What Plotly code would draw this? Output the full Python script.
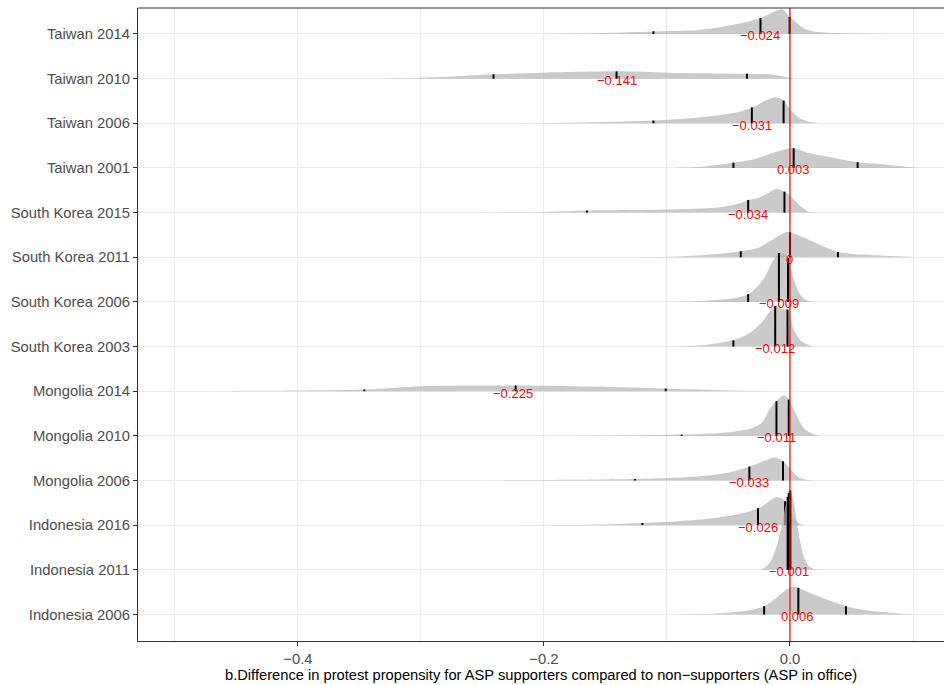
import plotly.graph_objects as go

# ---------------- data ----------------
categories = ["Indonesia 2006", "Indonesia 2011", "Indonesia 2016",
              "Mongolia 2006", "Mongolia 2010", "Mongolia 2014",
              "South Korea 2003", "South Korea 2006", "South Korea 2011", "South Korea 2015",
              "Taiwan 2001", "Taiwan 2006", "Taiwan 2010", "Taiwan 2014"]

median_values = [0.006, -0.001, -0.026, -0.033, -0.011, -0.225,
                 -0.012, -0.009, 0.0, -0.034, 0.003, -0.031, -0.141, -0.024]
median_labels = ["0.006", "\u22120.001", "\u22120.026", "\u22120.033", "\u22120.011", "\u22120.225",
                 "\u22120.012", "\u22120.009", "0", "\u22120.034", "0.003", "\u22120.031", "\u22120.141", "\u22120.024"]

x_tick_vals = [-0.4, -0.2, 0.0]
x_tick_text = ["\u22120.4", "\u22120.2", "0.0"]
x_minor_vals = [-0.5, -0.3, -0.1, 0.1]

# density curves: x (difference) and relative density height
ID2006_X = [-0.095, -0.06, -0.033, -0.021, -0.011, -0.003, 0.002, 0.0068, 0.016, 0.030, 0.0455, 0.062, 0.089, 0.10]
ID2006_D = [0, 1, 4.3, 8.3, 16.7, 25, 27.7, 26.7, 21.7, 15, 8.3, 4.3, 1, 0]
ID2006_Q = [-0.021, 0.0068, 0.0455]
ID2006_QD = [8.3, 26.7, 8.3]

ID2011_X = [-0.024, -0.019, -0.015, -0.011, -0.007, -0.003, 0.0, 0.003, 0.0054, 0.008, 0.011, 0.015, 0.020, 0.024]
ID2011_D = [0, 3.5, 10, 23, 42, 68, 79.5, 68, 50, 30, 14, 4, 0.5, 0]
ID2011_Q = [-0.0019, -0.001, 0.0003]
ID2011_QD = [73, 77, 79.5]

ID2016_X = [-0.244, -0.154, -0.12, -0.10, -0.073, -0.046, -0.0325, -0.025, -0.018, -0.012, -0.007, -0.004, 0.0, 0.004, 0.008, 0.012]
ID2016_D = [0, 0.7, 2.3, 3.3, 5.7, 10, 14, 17.3, 23, 28, 27, 24, 16, 6, 1.5, 0]
ID2016_Q = [-0.12, -0.026, -0.004]
ID2016_QD = [2.3, 17, 24]

MN2006_X = [-0.25, -0.20, -0.126, -0.10, -0.07, -0.05, -0.032, -0.02, -0.0125, -0.0057, 0.0, 0.006, 0.012, 0.02]
MN2006_D = [0, 0.5, 1.5, 2.5, 4.5, 8, 14.3, 20, 23, 19.3, 12, 4, 1, 0]
MN2006_Q = [-0.126, -0.033, -0.0057]
MN2006_QD = [1.5, 14, 19.3]

MN2010_X = [-0.197, -0.116, -0.088, -0.055, -0.035, -0.023, -0.017, -0.011, -0.005, -0.001, 0.005, 0.011, 0.020, 0.025]
MN2010_D = [0, 0.7, 1.3, 3, 6.3, 13, 26, 34.7, 40.7, 36.3, 21.3, 8, 1.3, 0]
MN2010_Q = [-0.088, -0.011, -0.001]
MN2010_QD = [1.3, 34.7, 36.3]

MN2014_X = [-0.49, -0.45, -0.399, -0.346, -0.30, -0.261, -0.225, -0.189, -0.136, -0.101, -0.055, -0.002]
MN2014_D = [0, 0.3, 0.7, 1.7, 5, 5.7, 5.7, 5.3, 4, 2.7, 1, 0]
MN2014_Q = [-0.346, -0.223, -0.101]
MN2014_QD = [1.7, 5.7, 2.7]

SK2003_X = [-0.10, -0.072, -0.046, -0.032, -0.023, -0.017, -0.012, -0.005, -0.002, 0.003, 0.009, 0.018, 0.022]
SK2003_D = [0, 1.3, 6.3, 14, 24, 34, 40.7, 37, 37, 17, 5.7, 0.7, 0]
SK2003_Q = [-0.046, -0.012, -0.002]
SK2003_QD = [6.3, 40.7, 37]

SK2006_X = [-0.10, -0.072, -0.043, -0.034, -0.026, -0.020, -0.014, -0.009, -0.007, -0.0035, -0.0016, 0.003, 0.009, 0.015, 0.02]
SK2006_D = [0, 1, 4.3, 7.7, 16, 26, 41, 49, 50, 47, 44, 22.7, 6, 1, 0]
SK2006_Q = [-0.034, -0.009, -0.0016]
SK2006_QD = [7.7, 49, 44]

SK2011_X = [-0.13, -0.087, -0.055, -0.040, -0.026, -0.014, -0.003, 0.0, 0.009, 0.021, 0.039, 0.059, 0.099, 0.105]
SK2011_D = [0, 1, 3.7, 6, 9.3, 17.7, 25.3, 25, 21, 14.3, 5.3, 2.7, 0.3, 0]
SK2011_Q = [-0.040, 0.0, 0.039]
SK2011_QD = [6, 25, 5.3]

SK2015_X = [-0.31, -0.2, -0.165, -0.10, -0.057, -0.043, -0.033, -0.026, -0.019, -0.011, -0.0045, 0.0, 0.0066, 0.015, 0.02]
SK2015_D = [0, 0.7, 2, 3, 5.3, 8.7, 12.7, 14.7, 18.7, 23.7, 21, 17, 8.7, 1, 0]
SK2015_Q = [-0.165, -0.034, -0.0045]
SK2015_QD = [2, 12.7, 21]

TW2001_X = [-0.10, -0.072, -0.046, -0.028, -0.014, 0.002, 0.015, 0.029, 0.055, 0.073, 0.099, 0.105]
TW2001_D = [0, 1.3, 5.3, 9, 15, 20, 15, 11.7, 5.7, 4, 0.7, 0]
TW2001_Q = [-0.046, 0.003, 0.055]
TW2001_QD = [5.3, 19.7, 5.7]

TW2006_X = [-0.22, -0.15, -0.111, -0.072, -0.043, -0.030, -0.020, -0.011, -0.005, 0.0, 0.0066, 0.015, 0.024]
TW2006_D = [0, 1.3, 2.7, 6, 11, 16, 22.7, 26, 22.7, 14, 6, 1.7, 0]
TW2006_Q = [-0.111, -0.031, -0.0052]
TW2006_QD = [2.7, 16, 22.7]

TW2010_X = [-0.335, -0.30, -0.267, -0.241, -0.20, -0.14, -0.10, -0.043, -0.014, -0.005, 0.0, 0.004]
TW2010_D = [0, 1, 2.7, 4.3, 6, 7.3, 6, 5, 4, 2, 0.7, 0]
TW2010_Q = [-0.241, -0.141, -0.035]
TW2010_QD = [4.3, 7.3, 5]

TW2014_X = [-0.20, -0.15, -0.111, -0.072, -0.043, -0.024, -0.014, -0.0065, 0.0, 0.0066, 0.012, 0.021, 0.044, 0.088]
TW2014_D = [0, 1, 2.5, 4.3, 10, 16, 21.7, 25, 17, 10, 5, 2.3, 0.7, 0]
TW2014_Q = [-0.111, -0.024, -0.0003]
TW2014_QD = [2.7, 16, 17]

ridges = [
    (ID2006_X, ID2006_D, ID2006_Q, ID2006_QD),
    (ID2011_X, ID2011_D, ID2011_Q, ID2011_QD),
    (ID2016_X, ID2016_D, ID2016_Q, ID2016_QD),
    (MN2006_X, MN2006_D, MN2006_Q, MN2006_QD),
    (MN2010_X, MN2010_D, MN2010_Q, MN2010_QD),
    (MN2014_X, MN2014_D, MN2014_Q, MN2014_QD),
    (SK2003_X, SK2003_D, SK2003_Q, SK2003_QD),
    (SK2006_X, SK2006_D, SK2006_Q, SK2006_QD),
    (SK2011_X, SK2011_D, SK2011_Q, SK2011_QD),
    (SK2015_X, SK2015_D, SK2015_Q, SK2015_QD),
    (TW2001_X, TW2001_D, TW2001_Q, TW2001_QD),
    (TW2006_X, TW2006_D, TW2006_Q, TW2006_QD),
    (TW2010_X, TW2010_D, TW2010_Q, TW2010_QD),
    (TW2014_X, TW2014_D, TW2014_Q, TW2014_QD),
]

# ---------------- styling ----------------
ROW_SCALE = 44.67          # density units per category row
FILL = "rgba(179,179,179,0.7)"
FONT = "Liberation Sans, Arial, sans-serif"
GRID = "#EBEBEB"
AXIS = "#333333"

fig = go.Figure()

# draw from top row to bottom row so lower ridges overlap upper ones
for i in range(len(ridges) - 1, -1, -1):
    xs, ds, qs, qds = ridges[i]
    row = i + 1
    fig.add_trace(go.Scatter(x=[xs[0], xs[-1]], y=[row, row], mode="lines",
                             line=dict(width=0, color="rgba(0,0,0,0)"),
                             hoverinfo="skip", showlegend=False))
    fig.add_trace(go.Scatter(x=xs, y=[row + d / ROW_SCALE for d in ds], mode="lines",
                             line=dict(width=0, color=FILL, shape="spline", smoothing=0.8),
                             fill="tonexty", fillcolor=FILL,
                             hoverinfo="skip", showlegend=False))
    lx, ly = [], []
    for q, qd in zip(qs, qds):
        lx += [q, q, None]
        ly += [row, row + qd / ROW_SCALE, None]
    fig.add_trace(go.Scatter(x=lx, y=ly, mode="lines",
                             line=dict(width=2, color="black"),
                             hoverinfo="skip", showlegend=False))

# median labels
for i, (mv, ml) in enumerate(zip(median_values, median_labels)):
    fig.add_annotation(x=mv, y=i + 1, text=ml, showarrow=False,
                       xanchor="center", yanchor="middle", yshift=-2,
                       font=dict(family=FONT, size=13, color="red"))

# x-axis title as annotation
fig.add_annotation(x=0.5, y=0, xref="paper", yref="paper", yshift=-34,
                   xanchor="center", yanchor="middle", showarrow=False,
                   text="b.Difference in protest propensity for ASP supporters compared to non\u2212supporters (ASP in office)",
                   font=dict(family=FONT, size=14.7, color="black"))

# red reference line at 0
fig.add_shape(type="line", x0=0, x1=0, y0=0, y1=1, xref="x", yref="paper",
              line=dict(color="red", width=1.2), layer="above")
# top panel border
fig.add_shape(type="line", x0=0, x1=1, y0=1, y1=1, xref="paper", yref="paper",
              line=dict(color=AXIS, width=1.1), layer="above")

fig.update_layout(
    width=944, height=685,
    margin=dict(l=138, r=0, t=8, b=44, autoexpand=False),
    plot_bgcolor="white", paper_bgcolor="white",
    font=dict(family=FONT),
    xaxis=dict(range=[-0.530, 0.1252], tickvals=x_tick_vals, ticktext=x_tick_text,
               showgrid=True, gridcolor=GRID, gridwidth=1.1,
               minor=dict(tickvals=x_minor_vals, showgrid=True, gridcolor=GRID, gridwidth=0.55, ticks=""),
               ticks="outside", ticklen=4, tickwidth=1.1, tickcolor=AXIS,
               showline=True, linecolor=AXIS, linewidth=1.1, zeroline=False,
               tickfont=dict(family=FONT, size=14.8, color="#4D4D4D")),
    yaxis=dict(range=[0.407, 14.582], tickvals=list(range(1, len(categories) + 1)), ticktext=categories,
               showgrid=True, gridcolor=GRID, gridwidth=1.1,
               ticks="outside", ticklen=4, tickwidth=1.1, tickcolor=AXIS,
               showline=True, linecolor=AXIS, linewidth=1.1, zeroline=False,
               tickfont=dict(family=FONT, size=14.8, color="#4D4D4D")),
)

fig.write_html("out.html")
